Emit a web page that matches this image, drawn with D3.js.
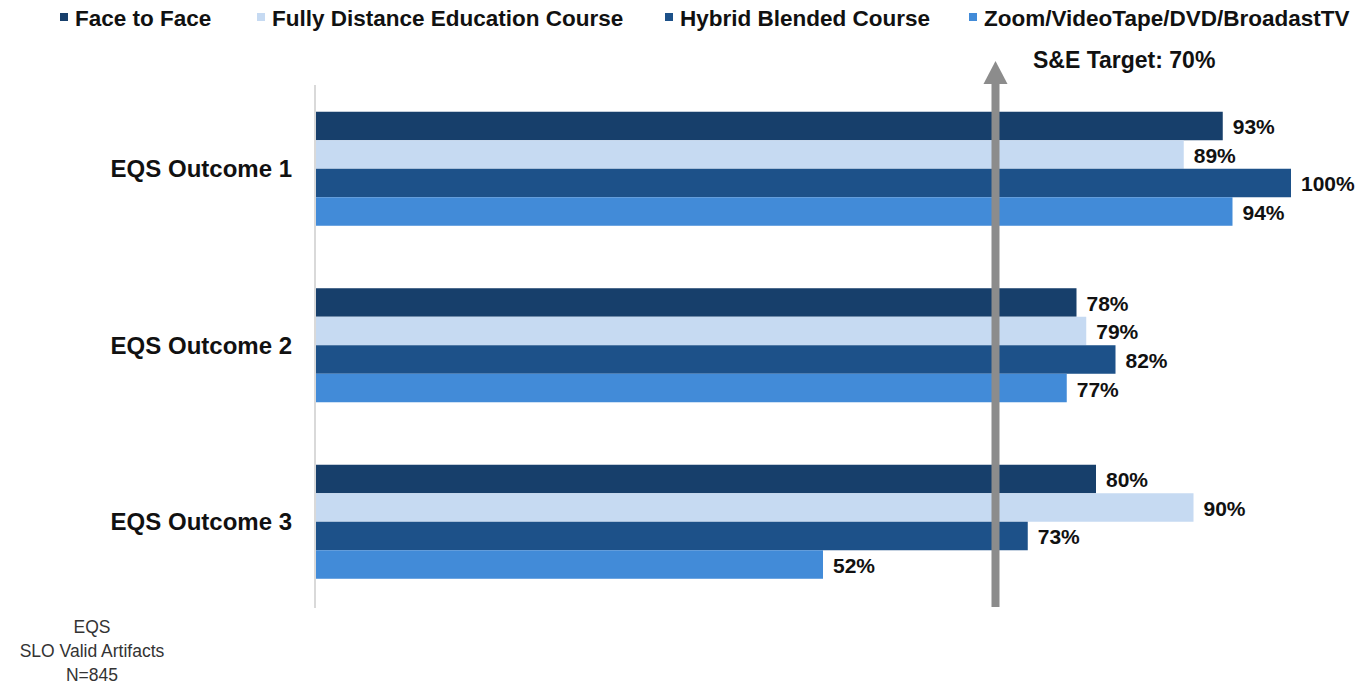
<!DOCTYPE html>
<html>
<head>
<meta charset="utf-8">
<script src="https://cdnjs.cloudflare.com/ajax/libs/d3/7.8.5/d3.min.js"></script>
<style>
  body { margin: 0; background: #fff; }
  svg { display: block; font-family: "Liberation Sans", Arial, sans-serif; }
</style>
</head>
<body>
<div id="chart"></div>
<script>
(function () {

    // categories and series
    var outcomes = ["EQS Outcome 1", "EQS Outcome 2", "EQS Outcome 3"];
    var seriesNames = ["Face to Face", "Fully Distance Education Course", "Hybrid Blended Course", "Zoom/VideoTape/DVD/BroadastTV"];
    var faceToFace = [93, 78, 80];
    var fullyDistance = [89, 79, 90];
    var hybridBlended = [100, 82, 73];
    var zoomVideo = [94, 77, 52];
    var target = 70;
    var footNote = ["EQS", "SLO Valid Artifacts", "N=845"];

    var colors = ["#173f6b", "#c6daf2", "#1d5189", "#428bd8"];
    var seriesValues = [faceToFace, fullyDistance, hybridBlended, zoomVideo];

    var width = 1361, height = 685;
    var x0 = 316, x100 = 1291;

    var svg = d3.select("#chart").append("svg")
        .attr("width", width)
        .attr("height", height);

    var x = d3.scaleLinear().domain([0, 100]).range([x0, x100]);

    var y = d3.scaleBand()
        .domain(outcomes)
        .range([80.5, 610])
        .paddingInner(0.354)
        .paddingOuter(0.177);

    var ySub = d3.scaleBand()
        .domain(d3.range(seriesNames.length))
        .range([0, y.bandwidth()]);

    // axis line
    svg.append("line")
        .attr("x1", x0 - 1).attr("x2", x0 - 1)
        .attr("y1", 85).attr("y2", 608)
        .attr("stroke", "#d9d9d9")
        .attr("stroke-width", 2);

    // bars
    var groups = svg.selectAll("g.group")
        .data(outcomes)
        .enter().append("g")
        .attr("class", "group")
        .attr("transform", function (d) { return "translate(0," + y(d) + ")"; });

    groups.selectAll("rect")
        .data(function (d, i) {
            return seriesValues.map(function (vals, s) { return { s: s, v: vals[i] }; });
        })
        .enter().append("rect")
        .attr("x", x(0))
        .attr("y", function (d) { return ySub(d.s); })
        .attr("width", function (d) { return x(d.v) - x(0); })
        .attr("height", ySub.bandwidth())
        .attr("fill", function (d) { return colors[d.s]; });

    groups.selectAll("text.val")
        .data(function (d, i) {
            return seriesValues.map(function (vals, s) { return { s: s, v: vals[i] }; });
        })
        .enter().append("text")
        .attr("class", "val")
        .attr("x", function (d) { return x(d.v) + 10; })
        .attr("y", function (d) { return ySub(d.s) + ySub.bandwidth() / 2 + 1; })
        .attr("dominant-baseline", "central")
        .attr("font-size", 21)
        .attr("font-weight", "bold")
        .attr("fill", "#111")
        .text(function (d) { return d.v + "%"; });

    // category labels
    svg.selectAll("text.cat")
        .data(outcomes)
        .enter().append("text")
        .attr("class", "cat")
        .attr("x", 292)
        .attr("y", function (d) { return y(d) + y.bandwidth() / 2; })
        .attr("text-anchor", "end")
        .attr("dominant-baseline", "central")
        .attr("font-size", 24)
        .attr("font-weight", "bold")
        .attr("fill", "#111")
        .text(function (d) { return d; });

    // target arrow
    var ax = x(target) - 3;
    svg.append("rect")
        .attr("x", ax - 4).attr("y", 76)
        .attr("width", 8).attr("height", 607 - 76)
        .attr("fill", "#8c8c8c");
    svg.append("path")
        .attr("d", "M" + (ax - 12) + ",84 L" + ax + ",61 L" + (ax + 12) + ",84 Z")
        .attr("fill", "#8c8c8c");
    svg.append("text")
        .attr("x", 1033).attr("y", 60)
        .attr("dominant-baseline", "central")
        .attr("font-size", 23)
        .attr("font-weight", "bold")
        .attr("fill", "#111")
        .text("S&E Target: " + target + "%");

    // legend
    var legendX = [60, 257, 665, 969];
    var legend = svg.selectAll("g.legend")
        .data(seriesNames)
        .enter().append("g")
        .attr("class", "legend")
        .attr("transform", function (d, i) { return "translate(" + legendX[i] + ",17)"; });
    legend.append("rect")
        .attr("x", 0).attr("y", -4)
        .attr("width", 8).attr("height", 8)
        .attr("fill", function (d, i) { return colors[i]; });
    legend.append("text")
        .attr("x", 15)
        .attr("y", 1)
        .attr("dominant-baseline", "central")
        .attr("font-size", 22.5)
        .attr("font-weight", "bold")
        .attr("fill", "#111")
        .text(function (d) { return d; });

    // footnote
    svg.selectAll("text.foot")
        .data(footNote)
        .enter().append("text")
        .attr("class", "foot")
        .attr("x", 92)
        .attr("y", function (d, i) { return 627 + i * 24; })
        .attr("text-anchor", "middle")
        .attr("dominant-baseline", "central")
        .attr("font-size", 17.5)
        .attr("fill", "#333")
        .text(function (d) { return d; });

})();
</script>
</body>
</html>
